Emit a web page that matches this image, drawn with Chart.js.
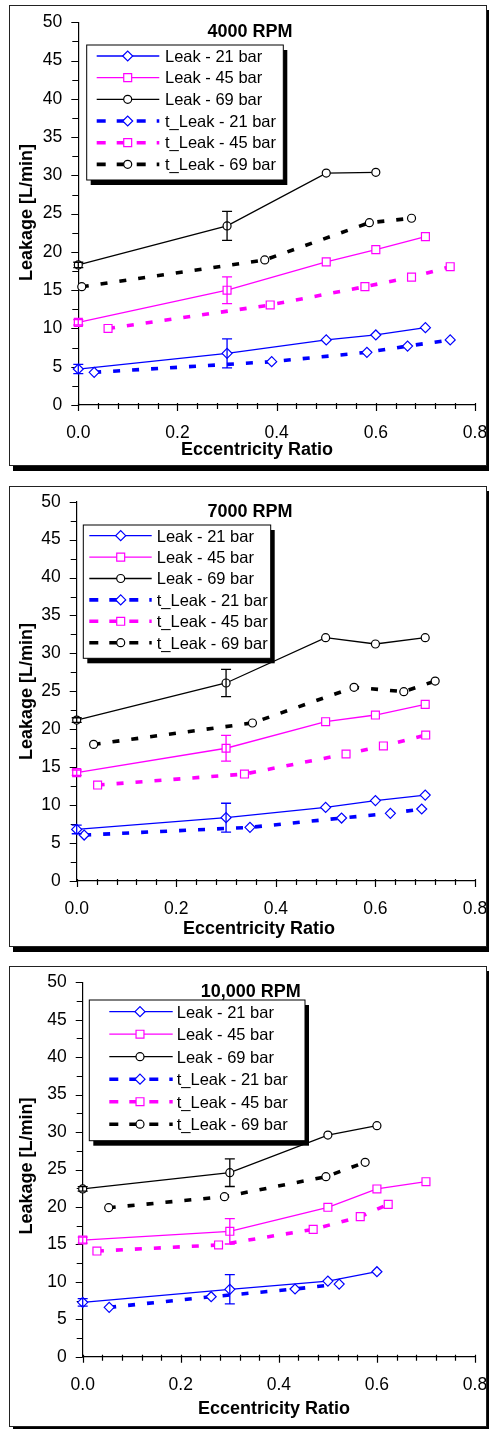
<!DOCTYPE html>
<html>
<head>
<meta charset="utf-8">
<title>Leakage vs Eccentricity Ratio</title>
<script src="https://cdn.jsdelivr.net/npm/chart.js@4.4.1/dist/chart.umd.min.js"></script>
<style>
  html, body { margin: 0; padding: 0; background: #fff; }
  body { width: 489px; height: 1429px; position: relative; overflow: hidden; }
  .panel {
    position: absolute; left: 9px; width: 476px; height: 459px;
    border: 1px solid #222; background: #fff;
    box-shadow: 4px 5px 0 0 #000;
  }
  .panel canvas { display: block; }
</style>
</head>
<body>
<div class="panel" style="top:5px"><canvas id="chart4000" width="476" height="459"></canvas></div>
<div class="panel" style="top:486px"><canvas id="chart7000" width="476" height="459"></canvas></div>
<div class="panel" style="top:966px"><canvas id="chart10000" width="476" height="459"></canvas></div>

<script>
// ==============================================================================
// 1. DATA
// ==============================================================================
const panelTitles = ['4000 RPM', '7000 RPM', '10,000 RPM'];
const seriesNames = ['Leak - 21 bar', 'Leak - 45 bar', 'Leak - 69 bar',
                     't_Leak - 21 bar', 't_Leak - 45 bar', 't_Leak - 69 bar'];
const xTickLabels = ['0.0', '0.2', '0.4', '0.6', '0.8'];
const yTickLabels = ['0', '5', '10', '15', '20', '25', '30', '35', '40', '45', '50'];

// eccentricities of the measured points
const eccTest = [0, 0.3, 0.5, 0.6, 0.7];

// --- 4000 RPM ---
const leak4000_21 = [4.7, 6.75, 8.5, 9.15, 10.1];
const leak4000_45 = [10.8, 15.0, 18.7, 20.3, 22.0];
const leak4000_69 = [18.3, 23.4, 30.3, 30.4];
const errBar4000_21 = [0.6, 1.9];
const errBar4000_45 = [0.35, 1.75];
const errBar4000_69 = [0.35, 1.9];
const eccT4000_21 = [0.032, 0.39, 0.582, 0.664, 0.75];
const tLeak4000_21 = [4.27, 5.66, 6.88, 7.7, 8.5];
const eccT4000_45 = [0.06, 0.387, 0.578, 0.672, 0.75];
const tLeak4000_45 = [10.0, 13.07, 15.46, 16.7, 18.07];
const eccT4000_69 = [0.007, 0.376, 0.587, 0.672];
const tLeak4000_69 = [15.46, 18.95, 23.82, 24.4];

// --- 7000 RPM ---
const leak7000_21 = [6.8, 8.35, 9.7, 10.6, 11.33];
const leak7000_45 = [14.28, 17.5, 21.0, 21.88, 23.29];
const leak7000_69 = [21.22, 26.1, 32.07, 31.24, 32.07];
const errBar7000_21 = [0.57, 1.9];
const errBar7000_45 = [0.35, 1.7];
const errBar7000_69 = [0.3, 1.8];
const eccT7000_21 = [0.015, 0.348, 0.532, 0.63, 0.693];
const tLeak7000_21 = [6.06, 7.07, 8.3, 8.92, 9.49];
const eccT7000_45 = [0.042, 0.337, 0.541, 0.616, 0.701];
const tLeak7000_45 = [12.65, 14.1, 16.74, 17.8, 19.24];
const eccT7000_69 = [0.034, 0.353, 0.557, 0.657, 0.72];
const tLeak7000_69 = [18.01, 20.83, 25.53, 24.96, 26.36];

// --- 10,000 RPM ---
const leak10000_21 = [7.26, 9.0, 10.1, 11.35];
const leak10000_45 = [15.58, 16.75, 19.95, 22.4, 23.37];
const leak10000_69 = [22.4, 24.58, 29.6, 30.85];
const errBar10000_21 = [0.5, 1.95];
const errBar10000_45 = [0.4, 1.7];
const errBar10000_69 = [0.3, 1.85];
const eccT10000_21 = [0.054, 0.262, 0.433, 0.523];
const tLeak10000_21 = [6.59, 8.01, 9.04, 9.7];
const eccT10000_45 = [0.029, 0.277, 0.47, 0.566, 0.623];
const tLeak10000_45 = [14.11, 14.92, 17.0, 18.7, 20.35];
const eccT10000_69 = [0.053, 0.289, 0.496, 0.576];
const tLeak10000_69 = [19.9, 21.37, 24.04, 25.96];

// ==============================================================================
// 2. STYLE & LAYOUT
// ==============================================================================
const FONT = '"Liberation Sans", Arial, Helvetica, sans-serif';
const pressColors = ['#0000ff', '#ff00ff', '#000000'];
const pressMarkers = ['rectRot', 'rect', 'circle'];
const markerRadius = { rectRot: 5, rect: 5.6, circle: 4 };

// canvas coordinates of plot area, titles and legend per panel
const panelLayout = [
    { area: { left: 68.3, top: 16.3, right: 465, bottom: 399 },
      titleAt: [240, 31.4], xTitleAt: [247, 449], yTitleAt: [22.3, 206.5],
      legend: { x: 76.7, y: 39, w: 196.6, h: 135, row0: 50, rowStep: 21.67,
                lineX0: 86.7, lineX1: 149.3, markX: 117.7, textX: 155 } },
    { area: { left: 66.7, top: 14.7, right: 465, bottom: 394 },
      titleAt: [240, 30.3], xTitleAt: [249, 447.3], yTitleAt: [22.3, 204.5],
      legend: { x: 73.3, y: 38, w: 187.4, h: 133.3, row0: 48.7, rowStep: 21.4,
                lineX0: 79.3, lineX1: 141.7, markX: 110.7, textX: 146.7 } },
    { area: { left: 72.7, top: 15.3, right: 465, bottom: 389.7 },
      titleAt: [240.7, 30.3], xTitleAt: [264, 447], yTitleAt: [22.3, 199],
      legend: { x: 79.3, y: 33, w: 215.7, h: 140.7, row0: 44.7, rowStep: 22.5,
                lineX0: 99.3, lineX1: 162.7, markX: 130, textX: 166.7 } }
];

// ==============================================================================
// 3. HELPERS
// ==============================================================================
function toPoints(xs, ys) {
    return ys.map((y, i) => ({ x: xs[i], y: y }));
}

function makeDataset(k, xs, ys, errs) {
    const theory = k >= 3;
    const p = k % 3;
    const style = pressMarkers[p];
    return {
        label: seriesNames[k],
        data: toPoints(xs, ys),
        errors: errs || null,
        borderColor: pressColors[p],
        backgroundColor: pressColors[p],
        borderWidth: theory ? 3.6 : 1.3,
        borderDash: theory ? [7, 12] : [],
        legendDash: theory ? [9, 11] : [],
        pointStyle: style,
        pointRadius: markerRadius[style],
        pointHoverRadius: markerRadius[style],
        pointBorderWidth: 1.2,
        pointBorderColor: pressColors[p],
        pointBackgroundColor: '#fff',
        fill: false,
        tension: 0,
        clip: false
    };
}

function drawMarker(ctx, style, r, x, y, color) {
    ctx.save();
    ctx.setLineDash([]);
    ctx.lineWidth = 1.2;
    ctx.strokeStyle = color;
    ctx.fillStyle = '#fff';
    ctx.beginPath();
    if (style === 'circle') {
        ctx.arc(x, y, r, 0, Math.PI * 2);
    } else if (style === 'rect') {
        const s = r * Math.SQRT1_2;
        ctx.rect(x - s, y - s, 2 * s, 2 * s);
    } else {
        ctx.moveTo(x - r, y); ctx.lineTo(x, y - r);
        ctx.lineTo(x + r, y); ctx.lineTo(x, y + r);
        ctx.closePath();
    }
    ctx.fill();
    ctx.stroke();
    ctx.restore();
}

// tick marks (major/minor), error bars, titles and the boxed legend
const leakDecor = {
    id: 'leakDecor',
    beforeDatasetsDraw(chart) {
        const { ctx, scales: { x, y } } = chart;
        ctx.save();
        ctx.strokeStyle = '#000';
        ctx.lineWidth = 1.2;
        ctx.beginPath();
        x.ticks.forEach(t => {
            const px = Math.round(x.getPixelForValue(t.value)) + 0.5;
            const major = t.label !== '';
            ctx.moveTo(px, x.top - 2);
            ctx.lineTo(px, x.top + (major ? 6 : 4));
        });
        y.ticks.forEach(t => {
            const py = Math.round(y.getPixelForValue(t.value)) + 0.5;
            const major = t.label !== '';
            ctx.moveTo(y.right, py);
            ctx.lineTo(y.right - (major ? 7 : 6), py);
        });
        ctx.stroke();
        ctx.restore();
    },
    afterDatasetsDraw(chart) {
        const { ctx, scales: { x, y } } = chart;
        chart.data.datasets.forEach(ds => {
            if (!ds.errors) return;
            ctx.save();
            ctx.strokeStyle = ds.borderColor;
            ctx.lineWidth = 1.3;
            ds.data.forEach((pt, j) => {
                const e = ds.errors[j];
                if (!e) return;
                const px = x.getPixelForValue(pt.x);
                const top = y.getPixelForValue(pt.y + e);
                const bot = y.getPixelForValue(pt.y - e);
                ctx.beginPath();
                ctx.moveTo(px, top); ctx.lineTo(px, bot);
                ctx.moveTo(px - 5, top); ctx.lineTo(px + 5, top);
                ctx.moveTo(px - 5, bot); ctx.lineTo(px + 5, bot);
                ctx.stroke();
            });
            ctx.restore();
        });
    },
    afterDraw(chart, args, opts) {
        const ctx = chart.ctx;
        const L = opts.layout;
        ctx.save();
        ctx.fillStyle = '#000';
        ctx.textBaseline = 'alphabetic';

        // chart title
        ctx.font = 'bold 18px ' + FONT;
        ctx.textAlign = 'center';
        ctx.fillText(opts.title, L.titleAt[0], L.titleAt[1]);

        // axis titles
        ctx.fillText('Eccentricity Ratio', L.xTitleAt[0], L.xTitleAt[1]);
        ctx.save();
        ctx.translate(L.yTitleAt[0], L.yTitleAt[1]);
        ctx.rotate(-Math.PI / 2);
        ctx.fillText('Leakage [L/min]', 0, 0);
        ctx.restore();

        // legend box with drop shadow
        const g = L.legend;
        ctx.fillRect(g.x + 4, g.y + 5, g.w, g.h);
        ctx.fillStyle = '#fff';
        ctx.fillRect(g.x, g.y, g.w, g.h);
        ctx.strokeStyle = '#000';
        ctx.lineWidth = 1;
        ctx.strokeRect(g.x, g.y, g.w, g.h);

        ctx.beginPath();
        ctx.rect(g.x + 1, g.y + 1, g.w - 2, g.h - 2);
        ctx.clip();
        ctx.font = '16.5px ' + FONT;
        ctx.textAlign = 'left';
        chart.data.datasets.forEach((ds, i) => {
            const ry = g.row0 + i * g.rowStep;
            ctx.save();
            ctx.strokeStyle = ds.borderColor;
            ctx.lineWidth = ds.borderWidth;
            ctx.setLineDash(ds.legendDash);
            ctx.beginPath();
            ctx.moveTo(g.lineX0, ry);
            ctx.lineTo(g.lineX1, ry);
            ctx.stroke();
            ctx.restore();
            drawMarker(ctx, ds.pointStyle, ds.pointRadius, g.markX, ry, ds.borderColor);
            ctx.fillStyle = '#000';
            ctx.fillText(ds.label, g.textX, ry + 5.8);
        });
        ctx.restore();
    }
};

// ==============================================================================
// 4. CHART BUILDER
// ==============================================================================
function buildChart(canvasId, idx, datasets) {
    const L = panelLayout[idx];
    const canvas = document.getElementById(canvasId);
    const W = canvas.width, H = canvas.height;
    const tickFont = { family: FONT, size: 17.5 };

    return new Chart(canvas.getContext('2d'), {
        type: 'line',
        data: { datasets: datasets },
        plugins: [leakDecor],
        options: {
            responsive: false,
            animation: false,
            events: [],
            layout: { padding: { left: 0, top: L.area.top, right: W - L.area.right, bottom: 0 } },
            plugins: {
                legend: { display: false },
                title: { display: false },
                tooltip: { enabled: false },
                leakDecor: { title: panelTitles[idx], layout: L }
            },
            scales: {
                x: {
                    type: 'linear', min: 0, max: 0.8,
                    ticks: {
                        stepSize: 0.04, autoSkip: false, maxRotation: 0, minRotation: 0,
                        padding: 17.5, color: '#000', font: tickFont,
                        callback: v => {
                            const k = Math.round(v * 100);
                            return k % 20 === 0 ? xTickLabels[k / 20] : '';
                        }
                    },
                    grid: { display: false, drawOnChartArea: false, drawTicks: false, tickLength: 0 },
                    border: { display: true, color: '#000', width: 1.2 },
                    afterFit: s => { s.height = H - L.area.bottom; s.paddingLeft = 0; s.paddingRight = 0; }
                },
                y: {
                    type: 'linear', min: 0, max: 50,
                    ticks: {
                        stepSize: 2.5, autoSkip: false, padding: 16, color: '#000', font: tickFont,
                        callback: v => {
                            const k = Math.round(v * 10);
                            return k % 50 === 0 ? yTickLabels[k / 50] : '';
                        }
                    },
                    grid: { display: false, drawOnChartArea: false, drawTicks: false, tickLength: 0 },
                    border: { display: true, color: '#000', width: 1.2 },
                    afterFit: s => { s.width = L.area.left; s.paddingTop = 0; s.paddingBottom = 0; }
                }
            }
        }
    });
}

// ==============================================================================
// 5. INITIALIZATION
// ==============================================================================
buildChart('chart4000', 0, [
    makeDataset(0, eccTest, leak4000_21, errBar4000_21),
    makeDataset(1, eccTest, leak4000_45, errBar4000_45),
    makeDataset(2, eccTest, leak4000_69, errBar4000_69),
    makeDataset(3, eccT4000_21, tLeak4000_21),
    makeDataset(4, eccT4000_45, tLeak4000_45),
    makeDataset(5, eccT4000_69, tLeak4000_69)
]);

buildChart('chart7000', 1, [
    makeDataset(0, eccTest, leak7000_21, errBar7000_21),
    makeDataset(1, eccTest, leak7000_45, errBar7000_45),
    makeDataset(2, eccTest, leak7000_69, errBar7000_69),
    makeDataset(3, eccT7000_21, tLeak7000_21),
    makeDataset(4, eccT7000_45, tLeak7000_45),
    makeDataset(5, eccT7000_69, tLeak7000_69)
]);

buildChart('chart10000', 2, [
    makeDataset(0, eccTest, leak10000_21, errBar10000_21),
    makeDataset(1, eccTest, leak10000_45, errBar10000_45),
    makeDataset(2, eccTest, leak10000_69, errBar10000_69),
    makeDataset(3, eccT10000_21, tLeak10000_21),
    makeDataset(4, eccT10000_45, tLeak10000_45),
    makeDataset(5, eccT10000_69, tLeak10000_69)
]);
</script>
</body>
</html>
